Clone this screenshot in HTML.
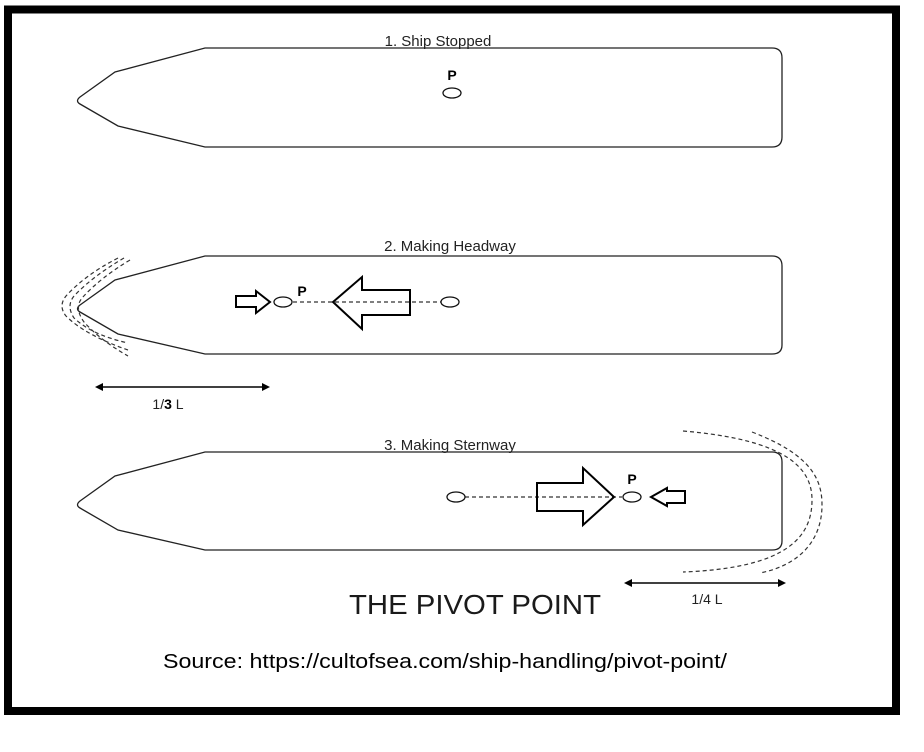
<!DOCTYPE html>
<html><head><meta charset="utf-8"><style>
html,body{margin:0;padding:0;background:#fff;width:924px;height:752px;overflow:hidden}
svg{display:block}
</style></head><body>
<svg width="924" height="752" viewBox="0 0 924 752" xmlns="http://www.w3.org/2000/svg">
<rect x="0" y="0" width="924" height="752" fill="#fff"/>
<rect x="8" y="9.5" width="888" height="701.5" fill="none" stroke="#000" stroke-width="8"/>
<g fill="none" stroke="#222" stroke-width="1.3">
<path d="M205,48 L772,48 Q782,48 782,58 L782,137 Q782,147 772,147 L205,147 L118,126 L80,104 Q75,101 80,97 L115,72 Z"/>
<path d="M205,256 L772,256 Q782,256 782,266 L782,345 Q782,354 772,354 L205,354 L118,334 L80,312 Q75,309 80,305 L115,280 Z"/>
<path d="M205,452 L772,452 Q782,452 782,462 L782,541 Q782,550 772,550 L205,550 L118,530 L80,508 Q75,505 80,501 L115,476 Z"/>
</g>
<g fill="none" stroke="#333" stroke-width="1.2" stroke-dasharray="4,3">
<path d="M118,258 Q85,275 66,296 Q58,306 66,316 Q85,335 128,350"/>
<path d="M124,258 Q93,276 74,296 Q66,306 74,318 Q92,335 128,343"/>
<path d="M130,260 Q100,278 82,298 Q74,308 84,322 Q100,340 128,356"/>
<path d="M683,431 C790,440 812,470 812,500 C812,535 790,568 683,572"/>
<path d="M752,432 C812,455 822,480 822,505 C822,540 800,565 760,573"/>
<line x1="293" y1="302" x2="449" y2="302"/>
<line x1="465" y1="497" x2="622" y2="497"/>
</g>
<g fill="#fff" stroke="#111" stroke-width="1.3">
<ellipse cx="452" cy="93" rx="9" ry="5"/>
<ellipse cx="283" cy="302" rx="9" ry="5"/>
<ellipse cx="450" cy="302" rx="9" ry="5"/>
<ellipse cx="456" cy="497" rx="9" ry="5"/>
<ellipse cx="632" cy="497" rx="9" ry="5"/>
</g>
<g fill="none" stroke="#000" stroke-width="2">
<path d="M236,296 L256,296 L256,291 L270,302 L256,313 L256,307 L236,307 Z"/>
<path d="M333,302 L362,277 L362,290 L410,290 L410,315 L362,315 L362,329 Z"/>
<path d="M537,483 L583,483 L583,468 L614,497 L583,525 L583,511 L537,511 Z"/>
<path d="M651,497 L667,488 L667,491 L685,491 L685,503 L667,503 L667,506 Z"/>
</g>
<g stroke="#000" stroke-width="1.5">
<line x1="100" y1="387" x2="266" y2="387"/>
<line x1="628" y1="583" x2="782" y2="583"/>
</g>
<g fill="#000">
<path d="M95,387 L103,383 L103,391 Z"/>
<path d="M270,387 L262,383 L262,391 Z"/>
<path d="M624,583 L632,579 L632,587 Z"/>
<path d="M786,583 L778,579 L778,587 Z"/>
</g>
<g font-family="Liberation Sans, sans-serif" fill="#222">
<text x="438" y="46" font-size="15" text-anchor="middle">1. Ship Stopped</text>
<text x="450" y="251" font-size="15" text-anchor="middle">2. Making Headway</text>
<text x="450" y="450" font-size="15" text-anchor="middle">3. Making Sternway</text>
<text x="452" y="80" font-size="14" font-weight="bold" text-anchor="middle" fill="#000">P</text>
<text x="302" y="296" font-size="14" font-weight="bold" text-anchor="middle" fill="#000">P</text>
<text x="632" y="484" font-size="14" font-weight="bold" text-anchor="middle" fill="#000">P</text>
<text x="168" y="409" font-size="14" text-anchor="middle">1/<tspan font-weight="bold" fill="#000">3</tspan> L</text>
<text x="707" y="604" font-size="14" text-anchor="middle">1/4 L</text>
<text x="349" y="614" font-size="28" fill="#1a1a1a" textLength="252" lengthAdjust="spacingAndGlyphs">THE PIVOT POINT</text>
<text x="163" y="668" font-size="20" fill="#000" textLength="564" lengthAdjust="spacingAndGlyphs">Source: https://cultofsea.com/ship-handling/pivot-point/</text>
</g>
</svg>
</body></html>
